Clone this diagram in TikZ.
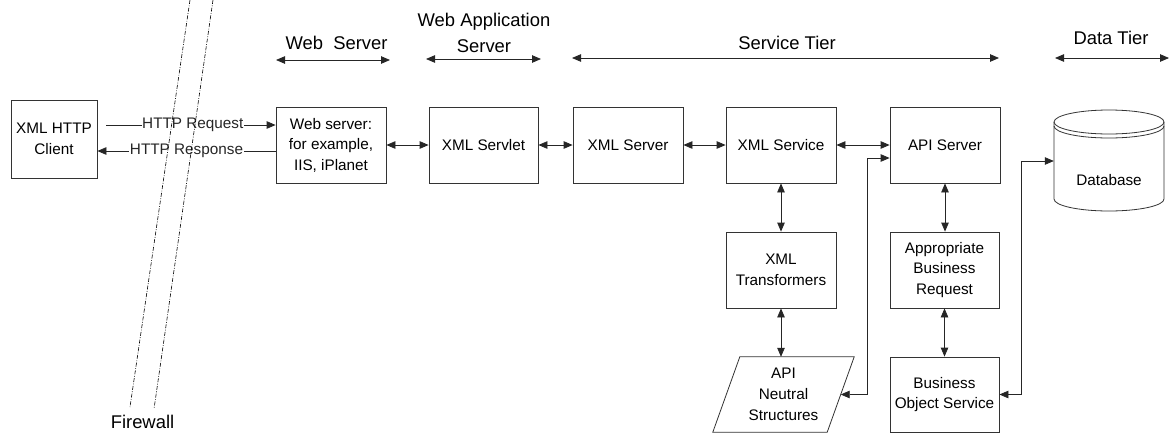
\documentclass[tikz,border=0pt]{standalone}
\usepackage{fontspec}
\setmainfont{Liberation Sans}
\usetikzlibrary{arrows.meta}
\begin{document}
\begin{tikzpicture}[x=1pt,y=-1pt,
  box/.style={draw=black!80, line width=0.8pt, minimum width=110pt, minimum height=76pt, inner sep=0pt, align=center, font=\fontsize{15.3}{20.5}\selectfont},
  plain/.style={minimum width=114pt, minimum height=75pt, inner sep=0pt, align=center, font=\fontsize{15.3}{21}\selectfont},
  tierlabel/.style={inner sep=0pt, align=center, font=\fontsize{18.4}{26}\selectfont},
  msg/.style={fill=white, inner sep=0.5pt, font=\fontsize{15.3}{18}\selectfont},
  conn/.style={line width=0.8pt, black!85},
  one/.style={conn, -{Triangle[length=9pt,width=7.5pt]}},
  both/.style={conn, {Triangle[length=9pt,width=7.5pt]}-{Triangle[length=9pt,width=7.5pt]}},
  fw/.style={line width=0.6pt, dash pattern=on 4pt off 1.5pt on 0.8pt off 1.5pt},
]
\useasboundingbox (0,0) rectangle (1169,434);

% tier labels
\node[tierlabel] (lws) at (336.5,43) {Web~~Server};
\node[tierlabel] (lwas) at (484,33) {Web Application\\Server};
\node[tierlabel] (lst) at (787,43) {Service Tier};
\node[tierlabel] (ldt) at (1111,38) {Data Tier};
\node[tierlabel] (lfw) at (142.5,422) {Firewall};

\coordinate (ws1) at (276,60); \coordinate (ws2) at (390,60);
\coordinate (wa1) at (426,59); \coordinate (wa2) at (541,59);
\coordinate (st1) at (572,58); \coordinate (st2) at (999,58);
\coordinate (dt1) at (1055,58); \coordinate (dt2) at (1169,58);
\draw[both] (ws1) -- (ws2);
\draw[both] (wa1) -- (wa2);
\draw[both] (st1) -- (st2);
\draw[both] (dt1) -- (dt2);

% boxes
\node[box, minimum width=86pt, minimum height=78pt] (client) at (54,139) {XML HTTP\\Client};
\node[box] (web) at (331,145) {Web server:\\for example,\\IIS, iPlanet};
\node[box, minimum width=109pt] (servlet) at (483.5,145) {XML Servlet};
\node[box] (xserver) at (628,145) {XML Server};
\node[box] (xservice) at (781,145) {XML Service};
\node[box] (api) at (945,145) {API Server};
\node[box] (trans) at (781,270) {XML\\Transformers};
\node[box, minimum width=109pt] (abr) at (944.5,270) {Appropriate\\Business\\Request};
\node[box, minimum width=109pt, minimum height=75pt] (bos) at (944.5,394.5) {Business\\Object Service};

% parallelogram
\node[plain] (ans) at (783.5,394.5) {API\\Neutral\\Structures};
\draw[black!80, line width=0.8pt] ([xshift=13.5pt]ans.north west) -- ([xshift=13.5pt]ans.north east)
  -- ([xshift=-13.5pt]ans.south east) -- ([xshift=-13.5pt]ans.south west) -- cycle;

% database cylinder
\node[minimum width=110pt, minimum height=100pt, inner sep=0pt] (db) at (1109,161) {};
\node[inner sep=0pt, font=\fontsize{15.3}{18}\selectfont] (dbtext) at (1109,180) {Database};
\draw[black!80, line width=0.8pt] (1109,122) ellipse [x radius=55pt, y radius=12pt];
\draw[black!80, line width=0.8pt] (1054,126) arc[start angle=180, end angle=360, x radius=55pt, y radius=12pt];
\draw[black!80, line width=0.8pt] (1054,122) -- (1054,199) arc[start angle=180, end angle=360, x radius=55pt, y radius=12pt] -- (1164,122);

% HTTP messages
\coordinate (reqstart) at (106,125);
\draw[one] (reqstart) -- node[msg, xshift=2pt] {HTTP Request} (web.west |- reqstart);
\coordinate (resp) at (web.west |- 0,151);
\draw[one] (resp) -- node[msg] {HTTP Response} (client.east |- resp);

% horizontal connectors
\draw[both] (web.east) -- (servlet.west);
\draw[both] (servlet.east) -- (xserver.west);
\draw[both] (xserver.east) -- (xservice.west);
\draw[both] (xservice.east) -- (api.west);

% vertical connectors
\draw[both] (xservice.south) -- (trans.north);
\draw[both] (trans.south) -- (trans.south |- ans.north);
\draw[both] (api.south) -- (api.south |- abr.north);
\draw[both] (abr.south) -- (bos.north);

% elbow connectors
\draw[both] ([yshift=-13pt]api.west) -- ++(-22,0) |- (ans.east);
\draw[both] (db.west) -- ++(-32,0) |- (bos.east);

% firewall
\coordinate (f1a) at (190,0); \coordinate (f1b) at (130,407);
\coordinate (f2a) at (213,0); \coordinate (f2b) at (154,409);
\draw[fw] (f1a) -- (f1b);
\draw[fw] (f2a) -- (f2b);
\end{tikzpicture}
\end{document}
